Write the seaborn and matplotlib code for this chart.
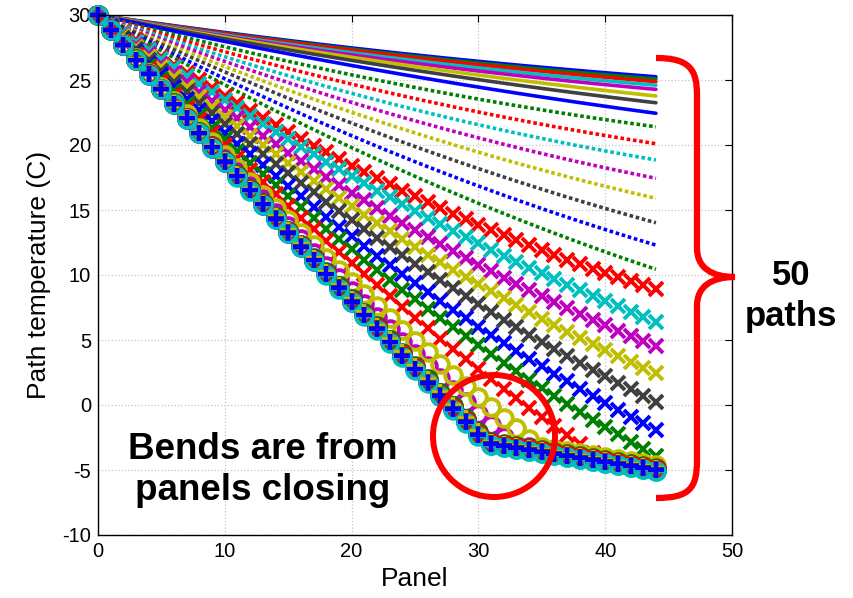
"""Temperatura de 50 trayectorias a lo largo de los paneles."""
import matplotlib

matplotlib.use("Agg")
import matplotlib.pyplot as plt
import numpy as np
import seaborn as sns
from matplotlib.patches import Ellipse, PathPatch
from matplotlib.path import Path

# ---- datos ----
PANELS = list(range(45))
START_TEMP = 30.0
MID_PANEL = 22
END_PANEL = 44

# temperatura en el panel 22 y (sin el tope inferior) en el panel 44
MID_TEMPS = [
    27.25, 27.15, 27.05, 26.85, 26.67, 26.46, 26.20, 25.77,
    25.00, 24.23, 23.46, 22.70, 21.87, 20.95, 19.90, 18.90,
    17.44, 16.50, 15.15, 14.00, 12.85, 11.50, 10.40, 9.20,
    5.95, 6.80, 7.60, 6.05, 5.85, 6.00, 5.90, 5.80,
    5.95, 6.05, 5.85, 5.90, 6.00, 5.80, 5.95, 5.85,
    6.10, 5.90, 5.85, 6.00, 5.90, 5.80, 5.95, 6.05,
    5.90, 5.85,
]
END_TEMPS = [
    25.25, 25.08, 24.87, 24.60, 24.28, 23.77, 23.25, 22.44,
    21.40, 20.10, 18.85, 17.44, 15.90, 14.02, 12.30, 10.44,
    8.90, 6.40, 4.50, 2.44, 0.25, -1.90, -3.90, -7.00,
    -15.6, -12.5, -10.0, -15.4, -15.7, -15.5, -15.6, -15.8,
    -15.6, -15.4, -15.8, -15.7, -15.5, -15.8, -15.6, -15.7,
    -15.3, -15.7, -15.8, -15.5, -15.6, -15.8, -15.6, -15.5,
    -15.7, -15.8,
]
# tope inferior cuando los paneles se cierran
FLOOR_PANELS = [31, 44]
FLOOR_TEMPS = [-2.95, -4.95]
FLOOR_SHIFT = [0.0] * 24 + [
    -0.10, 0.15, 0.35, 0.05, -0.05, 0.10, 0.00, -0.15,
    0.05, 0.10, -0.10, 0.00, 0.08, -0.12, -0.05, 0.02,
    0.12, -0.08, 0.00, 0.06, -0.10, -0.15, 0.04, 0.10,
    0.00, -0.05,
]

COLOR_CYCLE = [(0, 0, 1), (0, 0.5, 0), (1, 0, 0), (0, 0.75, 0.75),
               (0.75, 0, 0.75), (0.75, 0.75, 0), (0.25, 0.25, 0.25)]
STYLE_CYCLE = ["-", ":", "x", "o", "+", "+", "+"]

STYLE_KW = {
    "-": dict(linestyle="-", linewidth=2.6),
    ":": dict(linestyle=(0, (1, 0.75)), linewidth=2.6, dash_capstyle="butt"),
    "x": dict(linestyle="none", marker="x", markersize=10, markeredgewidth=2.8),
    "o": dict(linestyle="none", marker="o", markersize=12, markeredgewidth=2.8,
              markerfacecolor="none"),
    "+": dict(linestyle="none", marker="+", markersize=11, markeredgewidth=3.0),
}

sns.set_theme(style="whitegrid")
plt.rcParams["font.family"] = ["Liberation Sans", "DejaVu Sans"]
plt.rcParams["axes.unicode_minus"] = False
plt.rcParams["text.color"] = "black"
plt.rcParams["axes.labelcolor"] = "black"

W, H = 854, 598


def fig_xy(x, y):
    """Pasa pixeles de la imagen (origen arriba) a fraccion de figura."""
    return x / W, 1 - y / H


def path_temps(i):
    p = np.array(PANELS, dtype=float)
    coef = np.polyfit([0, MID_PANEL, END_PANEL], [START_TEMP, MID_TEMPS[i], END_TEMPS[i]], 2)
    curve = np.polyval(coef, p)
    slope = (FLOOR_TEMPS[1] - FLOOR_TEMPS[0]) / (FLOOR_PANELS[1] - FLOOR_PANELS[0])
    floor = FLOOR_TEMPS[0] + slope * (p - FLOOR_PANELS[0]) + FLOOR_SHIFT[i]
    return np.maximum(curve, floor)


fig = plt.figure(figsize=(W / 100, H / 100), dpi=100)
ax = fig.add_axes([98 / W, 1 - 535 / H, (732 - 98) / W, (535 - 15) / H])

for i in range(len(MID_TEMPS)):
    color = COLOR_CYCLE[i % 7]
    style = STYLE_CYCLE[i // 8]
    kw = dict(STYLE_KW[style])
    kw.setdefault("markeredgecolor", color)
    sns.lineplot(x=PANELS, y=path_temps(i), color=color, errorbar=None,
                 clip_on=False, ax=ax, **kw)

ax.set_xlim(0, 50)
ax.set_ylim(-10, 30)
ax.set_xticks(range(0, 51, 10))
ax.set_yticks(range(-10, 31, 5))
ax.grid(True, linestyle=":", color="#c4c4c4", linewidth=0.9)
for s in ax.spines.values():
    s.set_color("black")
    s.set_linewidth(1.0)
ax.tick_params(direction="in", length=5, width=0.8, top=True, right=True,
               labelsize=14.5, colors="black", pad=5)
ax.set_xlabel("Panel", fontsize=19, labelpad=4)
ax.set_ylabel("Path temperature (C)", fontsize=19, labelpad=8)

# circulo rojo alrededor del codo
cx, cy = fig_xy(494, 436)
fig.add_artist(Ellipse((cx, cy), 2 * 61 / W, 2 * 61 / H, transform=fig.transFigure,
                       fill=False, edgecolor="red", linewidth=4.3))

# llave roja de las 50 trayectorias
brace_px = [(656, 58), (690, 58), (697, 70), (697, 95),
            (697, 248),
            (697, 268), (712, 277), (735, 277),
            (712, 277), (697, 286), (697, 306),
            (697, 460),
            (697, 488), (690, 498), (656, 498)]
codes = [Path.MOVETO, Path.CURVE4, Path.CURVE4, Path.CURVE4,
         Path.LINETO,
         Path.CURVE4, Path.CURVE4, Path.CURVE4,
         Path.CURVE4, Path.CURVE4, Path.CURVE4,
         Path.LINETO,
         Path.CURVE4, Path.CURVE4, Path.CURVE4]
brace = Path([fig_xy(x, y) for x, y in brace_px], codes)
fig.add_artist(PathPatch(brace, transform=fig.transFigure, fill=False,
                         edgecolor="red", linewidth=4.5, capstyle="butt"))

tx, ty = fig_xy(791, 296)
fig.text(tx, ty, "50\npaths", ha="center", va="center", fontsize=25,
         fontweight="bold", linespacing=1.3)
tx, ty = fig_xy(263, 470)
fig.text(tx, ty, "Bends are from\npanels closing", ha="center", va="center",
         fontsize=26.5, fontweight="bold", linespacing=1.2)

fig.savefig("out.png", dpi=100)
